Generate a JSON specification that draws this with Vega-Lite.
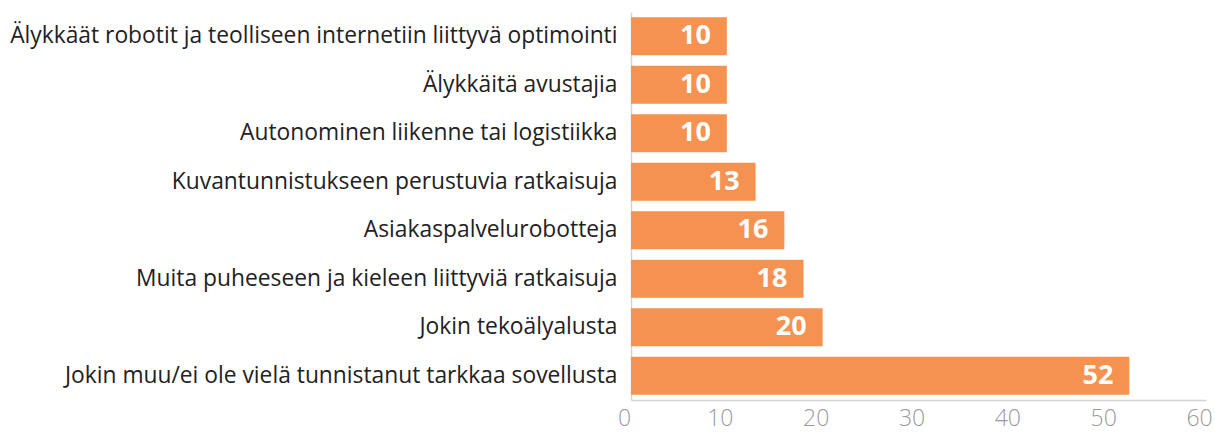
{
  "$schema": "https://vega.github.io/schema/vega-lite/v6.json",
  "width": 575,
  "height": 388,
  "autosize": {"type": "none"},
  "padding": {"left": 631, "top": 12, "right": 9, "bottom": 32},
  "background": "white",
  "config": {"view": {"stroke": null}},
  "data": {
    "values": [
      {"category": "Älykkäät robotit ja teolliseen internetiin liittyvä optimointi", "value": 10},
      {"category": "Älykkäitä avustajia", "value": 10},
      {"category": "Autonominen liikenne tai logistiikka", "value": 10},
      {"category": "Kuvantunnistukseen perustuvia ratkaisuja", "value": 13},
      {"category": "Asiakaspalvelurobotteja", "value": 16},
      {"category": "Muita puheeseen ja kieleen liittyviä ratkaisuja", "value": 18},
      {"category": "Jokin tekoälyalusta ", "value": 20},
      {"category": "Jokin muu/ei ole vielä tunnistanut tarkkaa sovellusta", "value": 52}
    ]
  },
  "encoding": {
    "y": {
      "field": "category",
      "type": "nominal",
      "sort": null,
      "scale": {"paddingInner": 0.22, "paddingOuter": 0.11},
      "axis": {
        "title": null,
        "ticks": false,
        "domain": true,
        "domainColor": "#d4d4d4",
        "domainWidth": 1.5,
        "labelPadding": 14,
        "labelColor": "#222222",
        "labelFontSize": 22.8,
        "labelFont": "Open Sans",
        "labelLimit": 0
      }
    },
    "x": {
      "field": "value",
      "type": "quantitative",
      "scale": {"domain": [0, 60], "nice": false},
      "axis": {
        "title": null,
        "values": [0, 10, 20, 30, 40, 50, 60],
        "grid": false,
        "ticks": false,
        "domain": true,
        "domainColor": "#d4d4d4",
        "domainWidth": 1.5,
        "labelColor": "#9a9a9a",
        "labelFontSize": 23,
        "labelFont": "Open Sans",
        "labelFontWeight": 300,
        "labelPadding": 7,
        "labelOffset": -7,
        "labelFlush": false
      }
    }
  },
  "layer": [
    {"mark": {"type": "bar", "color": "#F5924F"}},
    {
      "mark": {
        "type": "text",
        "align": "right",
        "baseline": "middle",
        "dx": -16,
        "color": "white",
        "fontSize": 27,
        "fontWeight": "bold",
        "font": "Open Sans"
      },
      "encoding": {"text": {"field": "value", "type": "quantitative"}}
    }
  ]
}
